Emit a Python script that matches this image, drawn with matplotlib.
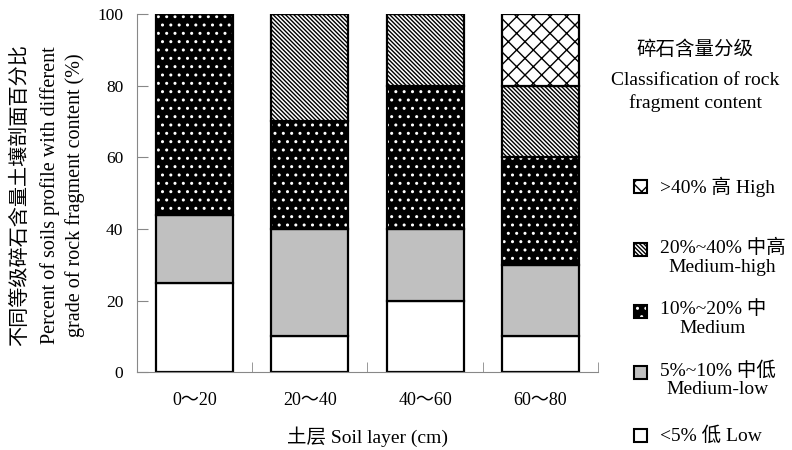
import matplotlib.pyplot as plt
from matplotlib.patches import Rectangle

plt.rcParams['font.family'] = ['Liberation Serif', 'Noto Sans CJK SC']
plt.rcParams['hatch.linewidth'] = 1.0

# soil layers and share of profiles in each rock fragment grade (%)
layers = ['0～20', '20～40', '40～60', '60～80']
low = [25, 10, 20, 10]
medium_low = [18.75, 30, 20, 20]
medium = [56.25, 30, 40, 30]
medium_high = [0, 30, 20, 20]
high = [0, 0, 0, 20]

grades = [low, medium_low, medium, medium_high, high]
# (face, hatch colour, hatch)
styles = [('white', 'black', None),
          ('#c0c0c0', 'black', None),
          ('black', 'white', '..'),
          ('white', 'black', '\\' * 8),
          ('white', 'black', 'xx')]

fig = plt.figure(figsize=(7.92, 4.5), dpi=100)
ax = fig.add_axes([0.173, 0.173, 0.582, 0.796])

x = list(range(len(layers)))
width = 0.67
bottom = [0] * len(layers)
for vals, (fc, hc, hatch) in zip(grades, styles):
    ax.bar(x, vals, width, bottom=bottom, color=fc, edgecolor=hc,
           hatch=hatch, linewidth=0)
    ax.bar(x, vals, width, bottom=bottom, fill=False, edgecolor='black',
           linewidth=1.6)
    bottom = [b + v for b, v in zip(bottom, vals)]

ax.set_xlim(-0.5, 3.5)
ax.set_ylim(0, 100)
ax.set_yticks([0, 20, 40, 60, 80, 100])
ax.set_xticks(x)
ax.set_xticklabels(layers, fontsize=13)
ax.set_xticks([0.5, 1.5, 2.5, 3.5], minor=True)
ax.tick_params(axis='x', which='major', length=0, pad=14)
ax.tick_params(axis='x', which='minor', direction='in', length=7,
               color='#888888')
ax.tick_params(axis='y', direction='in', length=8, color='#888888',
               labelsize=12.5, pad=10)
for s in ['top', 'right']:
    ax.spines[s].set_visible(False)
for s in ['left', 'bottom']:
    ax.spines[s].set_color('#888888')

ax.set_xlabel('土层 Soil layer (cm)', fontsize=14, labelpad=13)
fig.text(0.026, 0.567, '不同等级碎石含量土壤剖面百分比', rotation=90,
         ha='center', va='center', fontsize=14.5)
fig.text(0.079, 0.567, 'Percent of soils profile with different\n'
         'grade of rock fragment content (%)', rotation=90,
         ha='center', va='center', fontsize=14.5, linespacing=1.3)

# legend
fig.text(0.878, 0.889, '碎石含量分级', ha='center', va='center', fontsize=14)
fig.text(0.878, 0.795, 'Classification of rock\nfragment content',
         ha='center', va='center', fontsize=14, linespacing=1.4)

labels = ['>40% 高 High', '20%~40% 中高\nMedium-high', '10%~20% 中\nMedium',
          '5%~10% 中低\nMedium-low', '<5% 低 Low']
box_y = [0.585, 0.445, 0.307, 0.173, 0.033]
for lab, by, (fc, hc, hatch) in zip(labels, box_y, styles[::-1]):
    w, h = 13 / 792, 13 / 450
    fig.patches.append(Rectangle((0.801, by - h / 2), w, h,
                                 transform=fig.transFigure, facecolor=fc,
                                 edgecolor=hc, hatch=hatch, linewidth=0))
    fig.patches.append(Rectangle((0.801, by - h / 2), w, h,
                                 transform=fig.transFigure, fill=False,
                                 edgecolor='black', linewidth=1.5))
    if '\n' in lab:
        # first line level with the box, second line below it
        fig.text(0.833, by + 0.025, lab, ha='left', va='top',
                 multialignment='center', fontsize=14, linespacing=1.15)
    else:
        fig.text(0.833, by, lab, ha='left', va='center', fontsize=14)

fig.savefig('out.png')
